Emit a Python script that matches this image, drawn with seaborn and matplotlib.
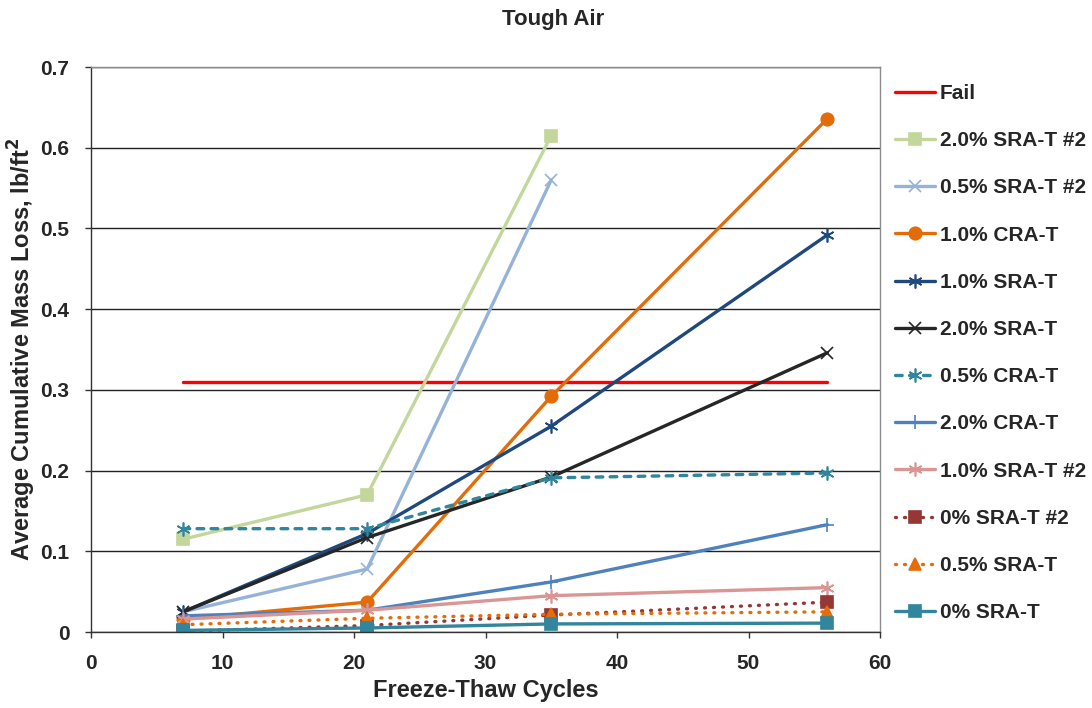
import matplotlib
matplotlib.use("Agg")
import matplotlib.pyplot as plt
import seaborn as sns
import pandas as pd

sns.set_theme(style="white")
plt.rcParams['font.family'] = ['Liberation Sans', 'DejaVu Sans']
plt.rcParams['font.weight'] = 'bold'

cycles = [7, 21, 35, 56]
fail_x = [7, 56]
fail_y = [0.31, 0.31]

sra2_20 = [0.115, 0.170, 0.615]
sra2_05 = [0.025, 0.078, 0.560]
cra_10 = [0.016, 0.037, 0.292, 0.636]
sra_10 = [0.025, 0.122, 0.255, 0.492]
sra_20 = [0.025, 0.117, 0.192, 0.346]
cra_05 = [0.128, 0.128, 0.191, 0.197]
cra_20 = [0.020, 0.027, 0.062, 0.133]
sra2_10 = [0.016, 0.027, 0.045, 0.055]
sra2_00 = [0.001, 0.008, 0.021, 0.037]
sra_05 = [0.009, 0.017, 0.022, 0.025]
sra_00 = [0.002, 0.005, 0.010, 0.011]

asterisk = (6, 2, 0)
dots = (0, (0.3, 2.4))
dashes = (0, (2.0, 2.2))
series = [
    ("Fail", fail_x, fail_y, "#FF0000", "-", None, 0),
    ("2.0% SRA-T #2", cycles[:3], sra2_20, "#C3D69B", "-", "s", 8.5),
    ("0.5% SRA-T #2", cycles[:3], sra2_05, "#95B3D7", "-", "x", 9),
    ("1.0% CRA-T", cycles, cra_10, "#E36C09", "-", "o", 9),
    ("1.0% SRA-T", cycles, sra_10, "#1F497D", "-", asterisk, 10),
    ("2.0% SRA-T", cycles, sra_20, "#262626", "-", "x", 9),
    ("0.5% CRA-T", cycles, cra_05, "#31859C", dashes, asterisk, 10),
    ("2.0% CRA-T", cycles, cra_20, "#4F81BD", "-", "+", 10),
    ("1.0% SRA-T #2", cycles, sra2_10, "#D99694", "-", asterisk, 10),
    ("0% SRA-T #2", cycles, sra2_00, "#953735", dots, "s", 8.5),
    ("0.5% SRA-T", cycles, sra_05, "#E46C0A", dots, "^", 8.5),
    ("0% SRA-T", cycles, sra_00, "#31859C", "-", "s", 8.5),
]

fig = plt.figure(figsize=(10.92, 7.08), dpi=100)
ax = fig.add_axes([91/1092, 76/708, (880-91)/1092, (632-67)/708])

for label, xs, ys, color, ls, mk, ms in series:
    df = pd.DataFrame({"x": xs, "y": ys})
    kw = {}
    if mk is not None:
        kw.update(marker=mk, markersize=ms, markeredgecolor=color,
                  markerfacecolor=color, markeredgewidth=1.2)
    sns.lineplot(data=df, x="x", y="y", ax=ax, color=color, linestyle=ls,
                 linewidth=2.4, label=label, legend=False,
                 dash_capstyle="round", **kw)

ax.set_xlim(0, 60)
ax.set_ylim(0, 0.7)
ax.set_xticks(range(0, 61, 10))
ax.set_yticks([i / 10 for i in range(8)])
ax.set_yticklabels(["0"] + [f"{i/10:.1f}" for i in range(1, 8)])
ax.yaxis.grid(True, color="#222222", linewidth=1.0)
ax.xaxis.grid(False)
ax.set_axisbelow(True)
for name, s in ax.spines.items():
    s.set_color("#333333" if name in ("left", "bottom") else "#8c8c8c")
    s.set_linewidth(1.0)
ax.tick_params(axis="x", labelsize=15, direction="out", length=4.5,
               color="#333333", width=1, bottom=True, pad=11.5)
ax.tick_params(axis="y", labelsize=15, direction="out", length=4.5,
               color="#333333", width=1, left=True, pad=11)
for t in ax.get_xticklabels() + ax.get_yticklabels():
    t.set_fontweight("bold")
ax.set_xlabel("Freeze-Thaw Cycles", fontsize=17, fontweight="bold", labelpad=4)
ax.set_ylabel("Average Cumulative Mass Loss, lb/ft$^\\mathbf{2}$", fontsize=17,
              fontweight="bold", labelpad=2)
fig.text(553/1092, 1 - 20/708, "Tough Air", ha="center", va="center",
         fontsize=16, fontweight="bold")

handles, labels = ax.get_legend_handles_labels()
leg = fig.legend(handles, labels, loc="upper left",
                 bbox_to_anchor=(895/1092, 1 - 84/708), frameon=False,
                 borderpad=0, borderaxespad=0,
                 labelspacing=1.354, handlelength=1.92,
                 handletextpad=0.24, prop={"weight": "bold", "size": 15})

fig.savefig("out.png", dpi=100)
